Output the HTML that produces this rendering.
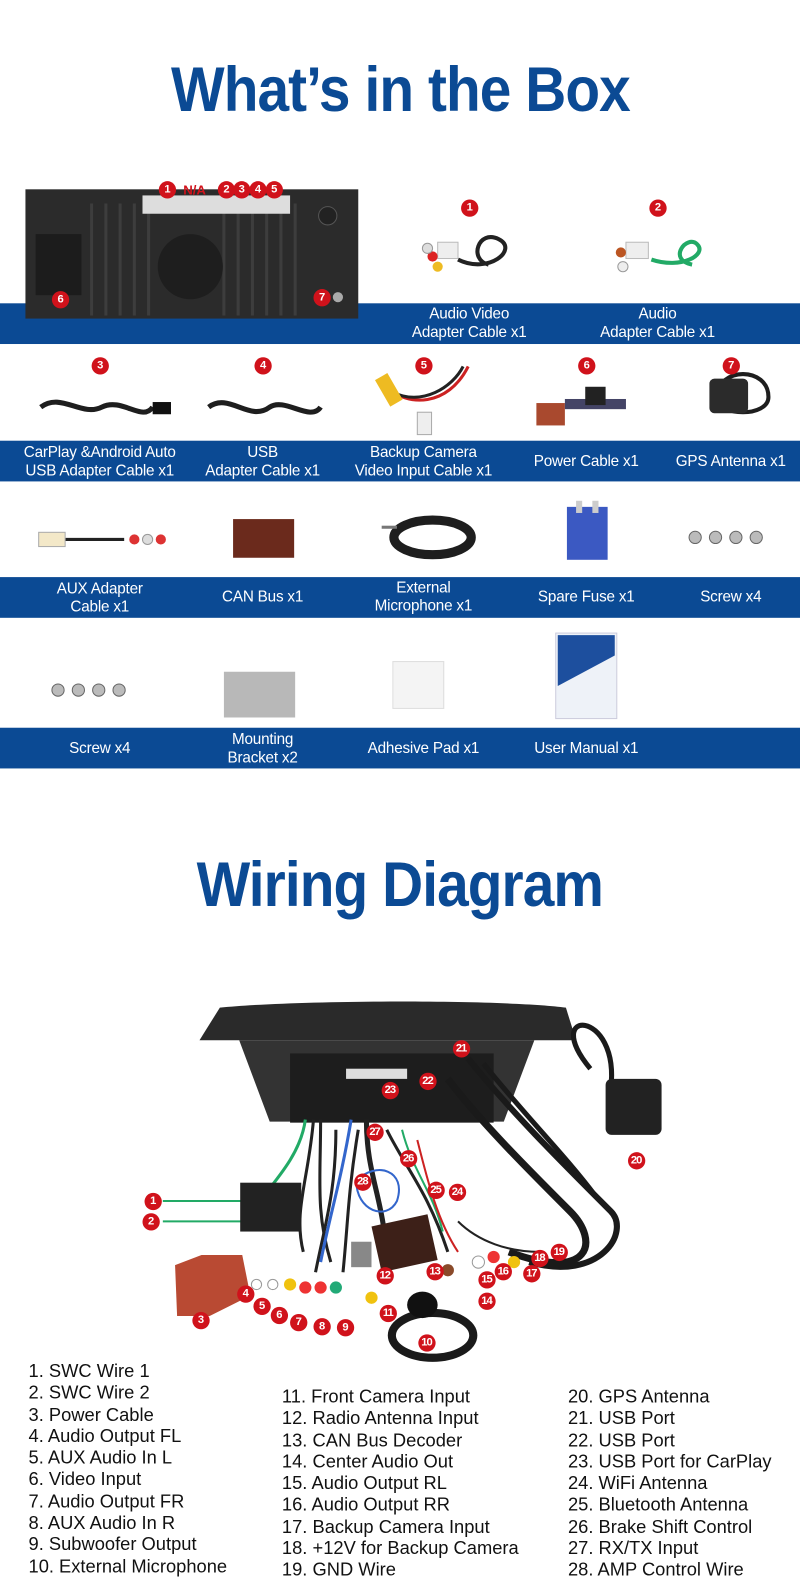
<!DOCTYPE html><html><head><meta charset="utf-8"><style>
*{margin:0;padding:0;box-sizing:border-box}
html,body{width:800px;height:1596px;overflow:hidden;background:#fff}
#w{position:absolute;left:0;top:0;width:786px;height:1568px;transform:scale(1.01781);transform-origin:0 0;font-family:"Liberation Sans",sans-serif}
.t{position:absolute;left:0;width:786px;text-align:center;color:#0b4a94;font-weight:bold;font-size:62px;letter-spacing:-1px}
.t span{display:inline-block;transform:scaleX(.9)}
.band{position:absolute;left:0;width:786px;height:40px;background:#0b4a94}
.lb{position:absolute;color:#fff;font-size:15px;line-height:18px;text-align:center;width:190px;margin-left:-95px;letter-spacing:-.2px}
.n{position:absolute;width:17px;height:17px;margin:-8.5px 0 0 -8.5px;border-radius:50%;background:#d0121b;color:#fff;font-size:11px;font-weight:bold;text-align:center;line-height:17px;letter-spacing:-1px}
.lg{position:absolute;font-size:18px;line-height:21.3px;color:#111;letter-spacing:0}
svg{position:absolute;left:0;top:0}
</style></head><body><div id="w">
<div class="t" style="top:53px"><span>What’s in the Box</span></div>
<div class="band" style="top:298px"></div>
<div class="band" style="top:433px"></div>
<div class="band" style="top:567px"></div>
<div class="band" style="top:715px"></div>
<svg width="786" height="1568">
<rect x="25" y="186" width="327" height="127" fill="#2b2b2b"/>
<rect x="35" y="230" width="45" height="60" fill="#1c1c1c"/>
<g stroke="#3d3d3d" stroke-width="3">
<path d="M90 200V310M104 200V310M118 200V310M132 200V310M146 200V310M220 200V310M234 200V310M248 200V310M262 200V310M276 200V310M290 200V310"/></g>
<circle cx="187" cy="262" r="32" fill="#1e1e1e"/>
<rect x="140" y="192" width="145" height="18" fill="#ddd"/>
<circle cx="322" cy="212" r="9" fill="#222" stroke="#555"/>
<circle cx="332" cy="292" r="5" fill="#aaa"/>
<g fill="none" stroke="#222" stroke-width="4">
<path d="M450 255c30 15 60 -10 40 -20c-20 -10 -30 20 -10 25"/>
<path d="M640 255c30 10 55 -5 45 -15c-10 -10 -30 15 -5 20" stroke="#2a6"/>
</g>
<rect x="430" y="238" width="20" height="16" fill="#eee" stroke="#bbb"/>
<circle cx="425" cy="252" r="5" fill="#d22"/><circle cx="430" cy="262" r="5" fill="#eb2"/><circle cx="420" cy="244" r="5" fill="#ddd" stroke="#999"/>
<rect x="615" y="238" width="22" height="16" fill="#eee" stroke="#bbb"/>
<circle cx="610" cy="248" r="5" fill="#b52"/><circle cx="612" cy="262" r="5" fill="#eee" stroke="#999"/>
<g fill="none" stroke="#1e1e1e" stroke-width="5">
<path d="M40 400c20 -15 40 10 60 0c20 -10 40 15 50 0"/>
<path d="M205 400c20 -15 40 15 60 0c15 -10 40 15 50 0"/>
<path d="M380 380c20 20 60 20 80 -20" stroke="#c22" stroke-width="3"/>
<path d="M385 385c30 15 60 -5 70 -25" stroke="#222" stroke-width="3"/>
<path d="M705 390c0 -30 50 -30 50 0c0 20 -50 20 -50 0" stroke-width="4"/>
</g>
<rect x="150" y="395" width="18" height="12" fill="#111"/>
<rect x="375" y="368" width="14" height="30" fill="#eb2" transform="rotate(-30 382 383)"/>
<rect x="410" y="405" width="14" height="22" fill="#eee" stroke="#aaa"/>
<rect x="527" y="396" width="28" height="22" fill="#a9492e"/>
<rect x="555" y="392" width="60" height="10" fill="#446"/>
<rect x="575" y="380" width="20" height="18" fill="#222"/>
<rect x="697" y="372" width="38" height="34" rx="5" fill="#2b2b2b"/>
<path d="M62 530h60" stroke="#222" stroke-width="3"/>
<rect x="38" y="523" width="26" height="14" fill="#f3e8c8" stroke="#aaa"/>
<circle cx="132" cy="530" r="5" fill="#d33"/><circle cx="145" cy="530" r="5" fill="#ddd" stroke="#999"/><circle cx="158" cy="530" r="5" fill="#d33"/>
<rect x="229" y="510" width="60" height="38" fill="#6b2a1c"/>
<ellipse cx="425" cy="528" rx="38" ry="17" fill="none" stroke="#1e1e1e" stroke-width="9"/>
<path d="M375 518h15" stroke="#777" stroke-width="3"/>
<rect x="557" y="498" width="40" height="52" fill="#3b59c2"/>
<rect x="566" y="492" width="6" height="12" fill="#ccc"/><rect x="582" y="492" width="6" height="12" fill="#ccc"/>
<g fill="#bbb" stroke="#666"><circle cx="683" cy="528" r="6"/><circle cx="703" cy="528" r="6"/><circle cx="723" cy="528" r="6"/><circle cx="743" cy="528" r="6"/>
<circle cx="57" cy="678" r="6"/><circle cx="77" cy="678" r="6"/><circle cx="97" cy="678" r="6"/><circle cx="117" cy="678" r="6"/></g>
<path d="M220 660h70v45h-70z" fill="#b8b8b8"/>
<rect x="386" y="650" width="50" height="46" fill="#f4f4f4" stroke="#ddd"/>
<rect x="546" y="622" width="60" height="84" fill="#eef2f8" stroke="#ccd"/>
<path d="M548 624h56v20l-56 30z" fill="#1d4f9e"/>
<path d="M196 1022l20 -32c80 -8 280 -8 340 0l10 32z" fill="#2a2a2a"/>
<path d="M235 1022h290l-30 80h-230z" fill="#333"/>
<rect x="285" y="1035" width="200" height="68" fill="#1d1d1d"/>
<rect x="340" y="1050" width="60" height="10" fill="#ddd"/>
<g fill="none" stroke-width="3">
<path d="M300 1100c-5 40 -40 70 -60 100" stroke="#2a6"/>
<path d="M308 1100c-5 60 -20 90 -10 130" stroke="#222"/>
<path d="M315 1100c0 60 -5 90 10 140" stroke="#222"/>
<path d="M330 1110c0 60 -10 90 -20 140" stroke="#222"/>
<path d="M345 1100c-10 60 -20 90 -30 140" stroke="#36c"/>
<path d="M352 1110c-10 60 -10 90 -15 140" stroke="#222"/>
<path d="M360 1100c0 60 20 80 20 150" stroke="#222" stroke-width="5"/>
<path d="M380 1110c20 40 40 60 60 120" stroke="#222"/>
<path d="M395 1110c10 40 30 60 40 100" stroke="#2a6" stroke-width="2"/>
<path d="M440 1060c30 40 80 90 120 130c30 30 20 70 -60 40" stroke="#1a1a1a" stroke-width="7"/>
<path d="M460 1040c40 50 90 100 140 150c20 20 -10 70 -80 50" stroke="#1a1a1a" stroke-width="6"/>
<path d="M475 1045c40 50 80 90 110 130" stroke="#1a1a1a" stroke-width="5"/>
<path d="M580 1050c-50 -60 30 -60 20 20" stroke="#1a1a1a" stroke-width="5"/>
<path d="M410 1120c10 40 20 80 40 110" stroke="#c22" stroke-width="2"/>
<path d="M450 1200c20 20 50 30 80 30" stroke="#222" stroke-width="2"/>
<path d="M160 1180h80M160 1200h80" stroke="#2a6" stroke-width="2"/>
<path d="M350 1160c20 -20 50 -10 40 20c-10 20 -40 10 -40 -20" stroke="#36c" stroke-width="2"/>
</g>
<rect x="236" y="1162" width="60" height="48" fill="#222"/>
<path d="M172 1243l26 -10h40l8 40l-40 20h-32z" fill="#b94a33"/>
<path d="M365 1205l55 -12l10 45l-55 12z" fill="#3d2018"/>
<rect x="345" y="1220" width="20" height="25" fill="#888"/>
<g fill="#fff" stroke="#999"><circle cx="252" cy="1262" r="5"/><circle cx="268" cy="1262" r="5"/></g>
<circle cx="285" cy="1262" r="6" fill="#f0c20f"/><circle cx="300" cy="1265" r="6" fill="#e33"/><circle cx="315" cy="1265" r="6" fill="#e33"/><circle cx="330" cy="1265" r="6" fill="#2a7"/><circle cx="365" cy="1275" r="6" fill="#f0c20f"/>
<circle cx="440" cy="1248" r="6" fill="#8a4a2a"/><circle cx="470" cy="1240" r="6" fill="#fff" stroke="#999"/><circle cx="485" cy="1235" r="6" fill="#e33"/><circle cx="505" cy="1240" r="6" fill="#f0c20f"/>
<rect x="595" y="1060" width="55" height="55" rx="6" fill="#222"/>
<ellipse cx="425" cy="1312" rx="40" ry="22" fill="none" stroke="#1a1a1a" stroke-width="8"/>
<ellipse cx="415" cy="1282" rx="15" ry="13" fill="#111"/>
</svg>
<div class="n" style="left:164px;top:186px">1</div>
<div style="position:absolute;left:180px;top:179px;color:#d0121b;font-size:13px;font-weight:bold">N/A</div>
<div class="n" style="left:222px;top:186px">2</div><div class="n" style="left:237px;top:186px">3</div><div class="n" style="left:253px;top:186px">4</div><div class="n" style="left:269px;top:186px">5</div>
<div class="n" style="left:59px;top:294px">6</div><div class="n" style="left:316px;top:292px">7</div>
<div class="n" style="left:461px;top:204px">1</div><div class="n" style="left:646px;top:204px">2</div>
<div class="n" style="left:98px;top:359px">3</div><div class="n" style="left:258px;top:359px">4</div><div class="n" style="left:416px;top:359px">5</div><div class="n" style="left:576px;top:359px">6</div><div class="n" style="left:718px;top:359px">7</div>
<div class="lb" style="left:461px;top:300px">Audio Video<br>Adapter Cable x1</div>
<div class="lb" style="left:646px;top:300px">Audio<br>Adapter Cable x1</div>
<div class="lb" style="left:98px;top:436px">CarPlay &amp;Android Auto<br>USB Adapter Cable x1</div>
<div class="lb" style="left:258px;top:436px">USB<br>Adapter Cable x1</div>
<div class="lb" style="left:416px;top:436px">Backup Camera<br>Video Input Cable x1</div>
<div class="lb" style="left:576px;top:445px">Power Cable x1</div>
<div class="lb" style="left:718px;top:445px">GPS Antenna x1</div>
<div class="lb" style="left:98px;top:570px">AUX Adapter<br>Cable x1</div>
<div class="lb" style="left:258px;top:578px">CAN Bus x1</div>
<div class="lb" style="left:416px;top:569px">External<br>Microphone x1</div>
<div class="lb" style="left:576px;top:578px">Spare Fuse x1</div>
<div class="lb" style="left:718px;top:578px">Screw x4</div>
<div class="lb" style="left:98px;top:727px">Screw x4</div>
<div class="lb" style="left:258px;top:718px">Mounting<br>Bracket x2</div>
<div class="lb" style="left:416px;top:727px">Adhesive Pad x1</div>
<div class="lb" style="left:576px;top:727px">User Manual x1</div>
<div class="t" style="top:834px"><span>Wiring Diagram</span></div>
<div class="n" style="left:150px;top:1180px">1</div><div class="n" style="left:148px;top:1200px">2</div><div class="n" style="left:197px;top:1297px">3</div><div class="n" style="left:241px;top:1271px">4</div><div class="n" style="left:257px;top:1283px">5</div><div class="n" style="left:274px;top:1292px">6</div><div class="n" style="left:293px;top:1299px">7</div><div class="n" style="left:316px;top:1303px">8</div><div class="n" style="left:339px;top:1304px">9</div><div class="n" style="left:419px;top:1319px">10</div><div class="n" style="left:381px;top:1290px">11</div><div class="n" style="left:378px;top:1253px">12</div><div class="n" style="left:427px;top:1249px">13</div><div class="n" style="left:478px;top:1278px">14</div><div class="n" style="left:478px;top:1257px">15</div><div class="n" style="left:494px;top:1249px">16</div><div class="n" style="left:522px;top:1251px">17</div><div class="n" style="left:530px;top:1236px">18</div><div class="n" style="left:549px;top:1230px">19</div><div class="n" style="left:625px;top:1140px">20</div><div class="n" style="left:453px;top:1030px">21</div><div class="n" style="left:420px;top:1062px">22</div><div class="n" style="left:383px;top:1071px">23</div><div class="n" style="left:449px;top:1171px">24</div><div class="n" style="left:428px;top:1169px">25</div><div class="n" style="left:401px;top:1138px">26</div><div class="n" style="left:368px;top:1112px">27</div><div class="n" style="left:356px;top:1161px">28</div>
<div class="lg" style="left:28px;top:1337px">1. SWC Wire 1<br>2. SWC Wire 2<br>3. Power Cable<br>4. Audio Output FL<br>5. AUX Audio In L<br>6. Video Input<br>7. Audio Output FR<br>8. AUX Audio In R<br>9. Subwoofer Output<br>10. External Microphone</div>
<div class="lg" style="left:277px;top:1362px">11. Front Camera Input<br>12. Radio Antenna Input<br>13. CAN Bus Decoder<br>14. Center Audio Out<br>15. Audio Output RL<br>16. Audio Output RR<br>17. Backup Camera Input<br>18. +12V for Backup Camera<br>19. GND Wire</div>
<div class="lg" style="left:558px;top:1362px">20. GPS Antenna<br>21. USB Port<br>22. USB Port<br>23. USB Port for CarPlay<br>24. WiFi Antenna<br>25. Bluetooth Antenna<br>26. Brake Shift Control<br>27. RX/TX Input<br>28. AMP Control Wire</div>
</div></body></html>
